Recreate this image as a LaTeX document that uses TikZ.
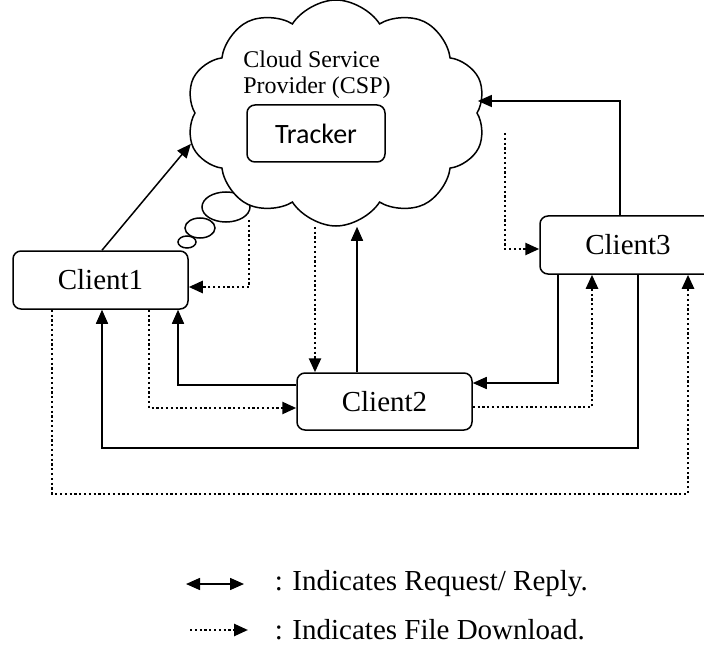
\documentclass[tikz,border=0pt]{standalone}
\usepackage{fontspec}
\setmainfont{Liberation Serif}
\newfontfamily\trackerfont{Carlito}
\usetikzlibrary{arrows.meta,shapes.symbols,shapes.geometric}

\begin{document}
\begin{tikzpicture}[
  x=1pt,y=-1pt,
  line width=1.5pt,
  client/.style={draw,rounded corners=8pt,fill=white,inner sep=0pt,minimum height=58pt,
    font=\fontsize{29}{31}\selectfont},
  bubble/.style={draw,ellipse,fill=white,inner sep=0pt},
  req/.style={-{Triangle[length=14pt,width=12pt]}},
  reqboth/.style={{Triangle[length=14pt,width=12pt]}-{Triangle[length=14pt,width=12pt]}},
  dl/.style={-{Triangle[length=14pt,width=12pt]},line width=2.5pt,dash pattern=on 2.2pt off 2.6pt},
  legend/.style={anchor=west,inner sep=0pt,font=\fontsize{29}{31}\selectfont},
]
\useasboundingbox (0,0) rectangle (704,647);

% --- thought bubbles, then the cloud over them
\node[bubble,minimum width=48pt,minimum height=30pt] (bubble1) at (226,207) {};
\node[bubble,minimum width=30pt,minimum height=20pt] (bubble2) at (200,228) {};
\node[bubble,minimum width=18pt,minimum height=12pt] (bubble3) at (187,242) {};

\node[draw,cloud,cloud puffs=10,cloud puff arc=115,cloud ignores aspect,fill=white,
  minimum width=300pt,minimum height=226pt,inner sep=0pt] (csp) at (336,113) {};
\node[align=left,font=\fontsize{24}{26}\selectfont] (csptext) at (317,75) {Cloud Service\\Provider (CSP)};
\node[draw,rounded corners=8pt,minimum width=138pt,minimum height=57pt,
  font=\trackerfont\fontsize{28}{30}\selectfont] (tracker) at (316,133.5) {Tracker};

% --- clients
\node[client,minimum width=175pt] (client1) at (100.5,280) {Client1};
\node[client,minimum width=175pt,minimum height=57pt] (client2) at (384.5,401.5) {Client2};
\node[client,minimum width=176pt] (client3) at (628,245) {Client3};

% --- request / reply
\draw[req] ([xshift=1.5pt]client1.north) -- (csp.192);
\draw[req] ([xshift=-27.5pt]client2.north) -- ([xshift=-27.5pt]client2.north |- csp.south);
\draw[req] ([xshift=-8pt]client3.north) |- ([yshift=12pt]csp.east);
\draw[req] ([xshift=-70pt]client3.south) |- ([yshift=18.5pt]client2.east);
\draw[req] ([xshift=10pt]client3.south) -- ++(0,173) -| ([xshift=1.5pt]client1.south);
\draw[req] ([yshift=16.5pt]client2.west) -| ([xshift=77.5pt]client1.south);

% --- file download
\coordinate (bubbleout) at (249,220);
\coordinate (cspout) at (505,133);
\draw[dl] (bubbleout) |- ([yshift=-7pt]client1.east);
\draw[dl] ([xshift=-69.5pt]client2.north |- csp.south) -- ([xshift=-69.5pt]client2.north);
\draw[dl] (cspout) |- ([yshift=-4pt]client3.west);
\draw[dl] ([yshift=-5.5pt]client2.east) -| ([xshift=-36pt]client3.south);
\draw[dl] ([xshift=48.5pt]client1.south) |- ([yshift=-6.5pt]client2.west);
\draw[dl] ([xshift=-48.5pt]client1.south) -- ++(0,184) -| ([xshift=60pt]client3.south);

% --- legend
\coordinate (lgreqa) at (186,584);
\coordinate (lgreqb) at (244,584);
\coordinate (lgdla) at (190,630);
\coordinate (lgdlb) at (248,630);
\draw[reqboth] (lgreqa) -- (lgreqb);
\draw[dl] (lgdla) -- (lgdlb);
\node[legend] (lgreq) at (274,584) {: Indicates Request/ Reply.};
\node[legend] (lgdl) at (274,630) {: Indicates File Download.};
\end{tikzpicture}
\end{document}
